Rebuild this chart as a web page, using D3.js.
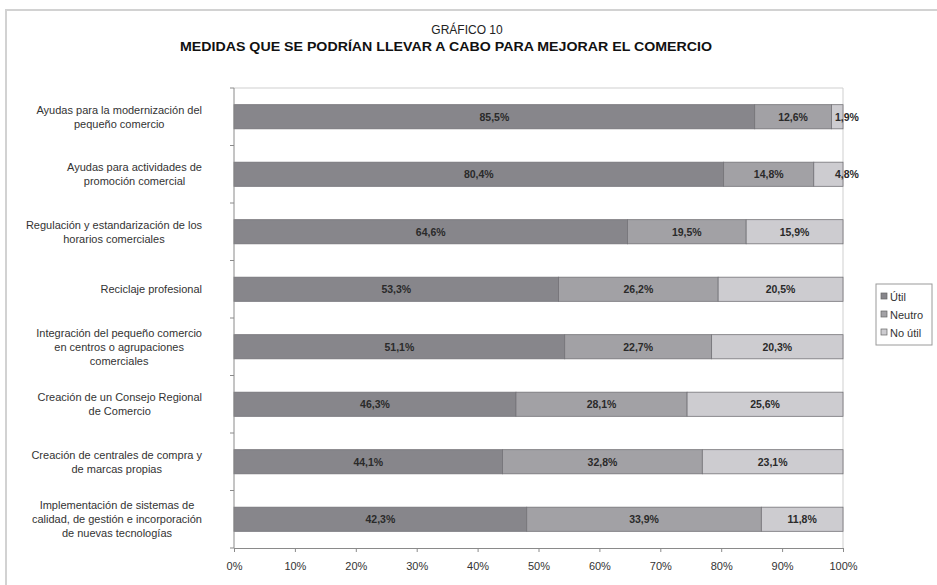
<!DOCTYPE html>
<html>
<head>
<meta charset="utf-8">
<script src="https://cdn.jsdelivr.net/npm/d3@7/dist/d3.min.js"></script>
<style>
  html, body { margin: 0; padding: 0; background: #fff; }
  svg { display: block; font-family: "Liberation Sans", Arial, sans-serif; }
</style>
</head>
<body>
<svg id="chart" width="937" height="585"></svg>
<script>
// Measures to improve local commerce, share of responses per answer
const categories = [
  ["Ayudas para la modernización del", "pequeño comercio"],
  ["Ayudas para actividades de", "promoción comercial"],
  ["Regulación y estandarización de los", "horarios comerciales"],
  ["Reciclaje profesional"],
  ["Integración del pequeño comercio", "en centros o agrupaciones", "comerciales"],
  ["Creación de un Consejo Regional", "de Comercio"],
  ["Creación de centrales de compra y", "de marcas propias"],
  ["Implementación de sistemas de", "calidad, de gestión e incorporación", "de nuevas tecnologías"]
];
const seriesNames = ["Útil", "Neutro", "No útil"];
const util   = [85.5, 80.4, 64.6, 53.3, 51.1, 46.3, 44.1, 42.3];
const neutro = [12.6, 14.8, 19.5, 26.2, 22.7, 28.1, 32.8, 33.9];
const noUtil = [1.9, 4.8, 15.9, 20.5, 20.3, 25.6, 23.1, 11.8];
const tickValues = [0, 0.1, 0.2, 0.3, 0.4, 0.5, 0.6, 0.7, 0.8, 0.9, 1];
const colors = ["#87868b", "#a2a1a5", "#cdccd0"];

const rows = categories.map((c, i) => ({
  key: i, "Útil": util[i], "Neutro": neutro[i], "No útil": noUtil[i]
}));

const svg = d3.select("#chart");
const plot = { left: 234, right: 843, top: 88, bottom: 548 };

// outer frame (top and left edges)
svg.append("line").attr("x1", 5).attr("x2", 937).attr("y1", 10).attr("y2", 10)
  .attr("stroke", "#d2d2d2").attr("stroke-width", 2);
svg.append("line").attr("x1", 6).attr("x2", 6).attr("y1", 10).attr("y2", 585)
  .attr("stroke", "#d2d2d2").attr("stroke-width", 2);

// titles
svg.append("text").attr("x", 467).attr("y", 34).attr("text-anchor", "middle")
  .attr("font-size", 12).attr("fill", "#222").text("GRÁFICO 10");
svg.append("text").attr("x", 446).attr("y", 51).attr("text-anchor", "middle")
  .attr("font-size", 12).attr("font-weight", "bold").attr("fill", "#111")
  .attr("textLength", 532).attr("lengthAdjust", "spacingAndGlyphs")
  .text("MEDIDAS QUE SE PODRÍAN LLEVAR A CABO PARA MEJORAR EL COMERCIO");

const x = d3.scaleLinear().domain([0, 1]).range([plot.left, plot.right]);
const y = d3.scaleBand().domain(d3.range(categories.length))
  .range([plot.top, plot.bottom]).paddingInner(0.58).paddingOuter(0.29);

// stacked, normalised to 100% per row
const stack = d3.stack().keys(seriesNames).offset(d3.stackOffsetExpand);
const stacked = stack(rows);

// plot area border (top and right)
svg.append("line").attr("x1", plot.left).attr("x2", plot.right)
  .attr("y1", plot.top).attr("y2", plot.top).attr("stroke", "#cfcfcf");
svg.append("line").attr("x1", plot.right).attr("x2", plot.right)
  .attr("y1", plot.top).attr("y2", plot.bottom).attr("stroke", "#cfcfcf");

const layers = svg.append("g").selectAll("g").data(stacked).join("g")
  .attr("fill", (d, i) => colors[i]);
layers.selectAll("rect").data(d => d).join("rect")
  .attr("x", d => x(d[0]))
  .attr("y", (d, i) => y(i))
  .attr("width", d => x(d[1]) - x(d[0]))
  .attr("height", y.bandwidth())
  .attr("stroke", "#737277").attr("stroke-width", 0.8);

// value labels
const labelG = svg.append("g").attr("font-size", 10.5).attr("font-weight", "bold")
  .attr("fill", "#2a2a2a");
stacked.forEach((layer, si) => {
  const vals = [util, neutro, noUtil][si];
  layer.forEach((d, i) => {
    const txt = String(vals[i].toFixed(1)).replace(".", ",") + "%";
    const w = x(d[1]) - x(d[0]);
    const t = labelG.append("text")
      .attr("y", y(i) + y.bandwidth() / 2 + 4)
      .text(txt);
    if (w < 32) {
      t.attr("x", x(d[1]) - 8).attr("text-anchor", "start");
    } else {
      t.attr("x", (x(d[0]) + x(d[1])) / 2).attr("text-anchor", "middle");
    }
  });
});

// x axis
const xAxis = svg.append("g").attr("transform", `translate(0,${plot.bottom})`)
  .call(d3.axisBottom(x).tickValues(tickValues).tickFormat(d3.format(".0%"))
    .tickSizeInner(4).tickSizeOuter(0).tickPadding(10));
xAxis.select(".domain").attr("stroke", "#8a8a8a");
xAxis.selectAll(".tick line").attr("stroke", "#8a8a8a");
xAxis.selectAll("text").attr("font-size", 11).attr("fill", "#333")
  .attr("font-family", "Liberation Sans, Arial, sans-serif");

// y axis line with boundary ticks between categories
svg.append("line").attr("x1", plot.left).attr("x2", plot.left)
  .attr("y1", plot.top).attr("y2", plot.bottom).attr("stroke", "#8a8a8a");
const step = y.step();
const bounds = d3.range(categories.length + 1).map(k => plot.top + k * (plot.bottom - plot.top) / categories.length);
svg.append("g").selectAll("line").data(bounds).join("line")
  .attr("x1", plot.left - 4).attr("x2", plot.left)
  .attr("y1", d => d).attr("y2", d => d).attr("stroke", "#8a8a8a");

// category labels: block right-aligned to the axis, lines centred within the block
const catG = svg.append("g").attr("font-size", 11).attr("fill", "#333");
const lineH = 14;
categories.forEach((lines, i) => {
  const cy = y(i) + y.bandwidth() / 2;
  const g = catG.append("g");
  const texts = lines.map((ln, k) => g.append("text")
    .attr("y", cy + (k - (lines.length - 1) / 2) * lineH + 4)
    .attr("text-anchor", "middle").text(ln));
  const maxW = d3.max(texts, t => t.node().getComputedTextLength());
  const right = 202;
  texts.forEach(t => t.attr("x", right - maxW / 2));
});

// legend
const lg = svg.append("g").attr("transform", "translate(876,284)");
lg.append("rect").attr("width", 56).attr("height", 61)
  .attr("fill", "#fff").attr("stroke", "#9a9a9a");
seriesNames.forEach((s, i) => {
  const row = lg.append("g").attr("transform", `translate(5,${13 + i * 18})`);
  row.append("rect").attr("x", 0).attr("y", -4).attr("width", 6).attr("height", 6)
    .attr("fill", colors[i]).attr("stroke", "#666").attr("stroke-width", 0.7);
  row.append("text").attr("x", 9).attr("y", 3.5).attr("font-size", 11)
    .attr("fill", "#333").text(s);
});
</script>
</body>
</html>
